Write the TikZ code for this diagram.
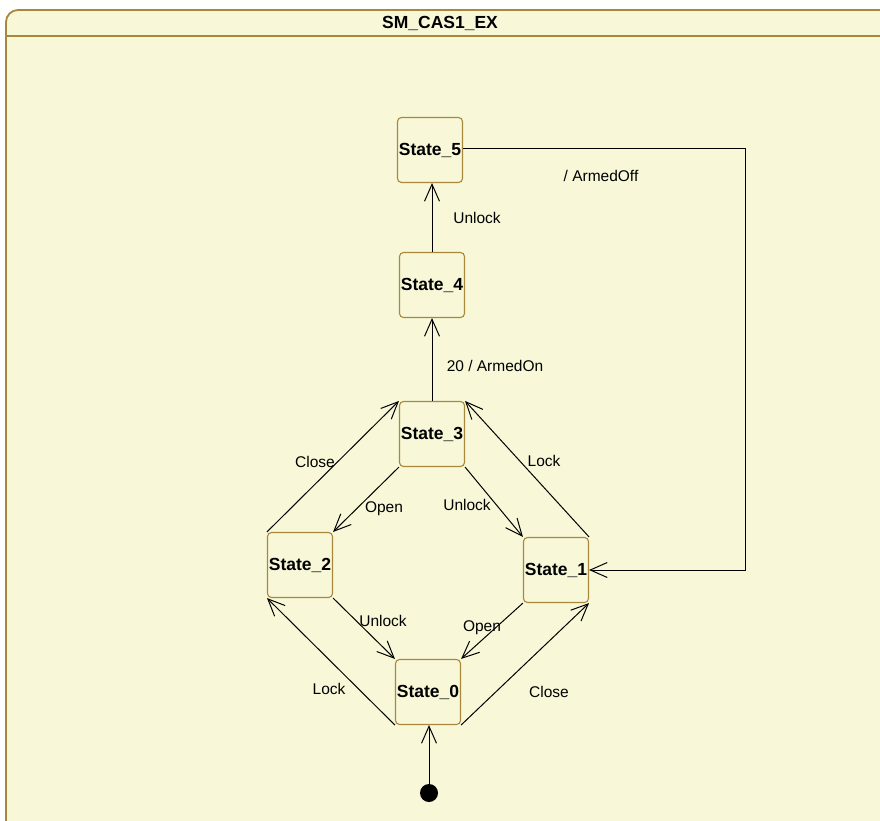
\documentclass[tikz,border=0pt]{standalone}
\usepackage{fontspec}
\setmainfont{Liberation Sans}
\usetikzlibrary{arrows.meta}
\definecolor{bgy}{HTML}{F8F8D8}
\definecolor{brd}{HTML}{A8883C}
\begin{document}
\begin{tikzpicture}[x=1pt,y=-1pt,
  state/.style={draw=brd, fill=bgy, line width=1.1pt, rounded corners=4pt,
    minimum width=65pt, minimum height=65pt, inner sep=0pt,
    font=\fontsize{17.5}{20}\selectfont\bfseries},
  trans/.style={draw=black, line width=1pt, -{Straight Barb[length=17pt,width=15pt]}},
  lbl/.style={font=\fontsize{15.5}{18}\selectfont, inner sep=0pt}]
\useasboundingbox (0,0) rectangle (880,821);
\clip (0,0) rectangle (880,821);
\fill[white] (0,0) rectangle (880,821);
\draw[draw=brd, fill=bgy, line width=1.8pt, rounded corners=12pt] (6,10) rectangle (895,835);
\draw[brd, line width=1.8pt] (6,36) -- (895,36);
\node[font=\fontsize{17.5}{20}\selectfont\bfseries] (title) at (440,23) {SM\_CAS1\_EX};

\node[state] (s5) at (430,150) {State\_5};
\node[state] (s4) at (432,285) {State\_4};
\node[state] (s3) at (432,434) {State\_3};
\node[state] (s2) at (300,565) {State\_2};
\node[state] (s1) at (556,570) {State\_1};
\node[state] (s0) at (428,692) {State\_0};
\node[circle, fill=black, minimum size=18pt, inner sep=0pt] (init) at (429,793) {};
\coordinate (turn) at (745,149);

\draw[trans] (init) -- (s0.south -| init);
\draw[trans] (s4.north) -- (s4.north |- s5.south);
\draw[trans] (s3.north) -- (s3.north |- s4.south);
\draw[trans] (s5.east |- turn) -- (turn) |- (s1.east);
\draw[trans] (s3.south west) -- (s2.north east);
\draw[trans] (s3.south east) -- (s1.north west);
\draw[trans] (s2.north west) -- (s3.north west);
\draw[trans] (s1.north east) -- (s3.north east);
\draw[trans] (s2.south east) -- (s0.north west);
\draw[trans] (s1.south west) -- (s0.north east);
\draw[trans] (s0.south west) -- (s2.south west);
\draw[trans] (s0.south east) -- (s1.south east);

\node[lbl] (l45) at (477,218) {Unlock};
\node[lbl] (l34) at (495,366) {20 / ArmedOn};
\node[lbl] (l51) at (601,176) {/ ArmedOff};
\node[lbl] (l23) at (315,462) {Close};
\node[lbl] (l13) at (544,461) {Lock};
\node[lbl] (l32) at (384,509) {Open};
\node[lbl] (l31) at (467,505) {Unlock};
\node[lbl] (l20) at (383,621) {Unlock};
\node[lbl] (l10) at (482,628) {Open};
\node[lbl] (l02) at (329,689) {Lock};
\node[lbl] (l01) at (549,692) {Close};
\end{tikzpicture}
\end{document}
